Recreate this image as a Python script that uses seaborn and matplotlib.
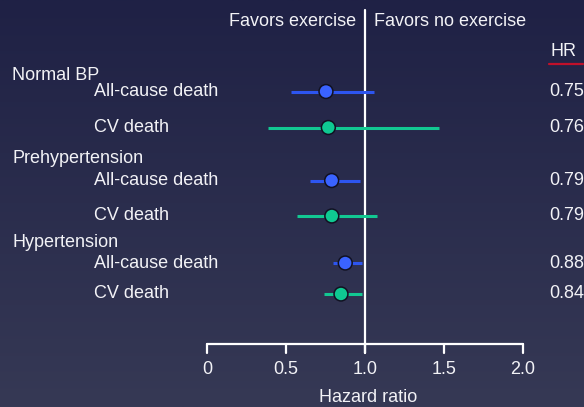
import numpy as np
import pandas as pd
import matplotlib
matplotlib.use("Agg")
import matplotlib.pyplot as plt
import seaborn as sns
from matplotlib.colors import LinearSegmentedColormap

# ---- data ----
groups = ["Normal BP", "Prehypertension", "Hypertension"]
outcomes = ["All-cause death", "CV death"]
hr = [0.75, 0.76, 0.79, 0.79, 0.88, 0.84]
hr_plot = [0.753, 0.768, 0.789, 0.79, 0.875, 0.848]
lower = [0.53, 0.384, 0.654, 0.567, 0.80, 0.738]
upper = [1.06, 1.466, 0.966, 1.074, 0.981, 0.981]
xticks = [0, 0.5, 1.0, 1.5, 2.0]
xticklabels = ["0", "0.5", "1.0", "1.5", "2.0"]

# ---- layout (pixel rows) ----
W, H = 584, 407
row_y = [91.5, 127.5, 180.5, 216, 263, 294]
group_y = [75.5, 158.5, 242.5]
x0_px, unit_px = 207, 158
FS = 13

sns.set_theme(style="white")
plt.rcParams["font.family"] = ["Liberation Sans", "DejaVu Sans"]

fig = plt.figure(figsize=(W / 100, H / 100), dpi=100)
ax = fig.add_axes([0, 0, 1, 1])
xmin = -x0_px / unit_px
xmax = (W - x0_px) / unit_px

# gradient background
cmap = LinearSegmentedColormap.from_list("bg", ["#1f2145", "#363955"])
grad = np.linspace(0, 1, 256).reshape(-1, 1)
ax.imshow(grad, cmap=cmap, extent=[xmin, xmax, H, 0], aspect="auto", zorder=0)

df = pd.DataFrame({
    "group": np.repeat(groups, 2),
    "outcome": outcomes * 3,
    "hr": hr_plot,
    "lower": lower,
    "upper": upper,
    "y": row_y,
})
palette = {"All-cause death": "#3a63ff", "CV death": "#0fc992"}
line_col = {"All-cause death": "#2d55f0", "CV death": "#12c892"}
txt_col = "#f2f2f6"

# reference line
ax.plot([1.0, 1.0], [10, 353], color="white", lw=1.6, zorder=2)

# CIs
for _, r in df.iterrows():
    ax.plot([r["lower"], r["upper"]], [r["y"], r["y"]], color=line_col[r["outcome"]],
            lw=2.2, solid_capstyle="butt", zorder=3)

sns.scatterplot(data=df, x="hr", y="y", hue="outcome", palette=palette, s=100,
                edgecolor="#111122", linewidth=1.1, legend=False, zorder=4, ax=ax)
ax.set_xlim(xmin, xmax)
ax.set_ylim(H, 0)
ax.axis("off")

# axis
axis_y = 343.5
ax.plot([0, 2], [axis_y, axis_y], color="white", lw=1.6, zorder=2)
for t, lab in zip(xticks, xticklabels):
    ax.plot([t, t], [axis_y, 353], color="white", lw=1.6, zorder=2)
    ax.text(t, 370, lab, color=txt_col, fontsize=FS, ha="center", va="center")
ax.text(1.0 + 3 / unit_px, 397, "Hazard ratio", color=txt_col, fontsize=FS, ha="center", va="center")

# headers
ax.text(1.0 - 9 / unit_px, 21, "Favors exercise", color=txt_col, fontsize=FS, ha="right", va="center")
ax.text(1.0 + 9 / unit_px, 21, "Favors no exercise", color=txt_col, fontsize=FS, ha="left", va="center")

def px(x):
    return (x - x0_px) / unit_px

ax.text(px(564), 52, "HR", color=txt_col, fontsize=FS, ha="center", va="center")
ax.plot([px(549), px(583)], [63.5, 63.5], color="#c0102a", lw=1.6)

for g, gy in zip(groups, group_y):
    ax.text(px(12), gy, g, color=txt_col, fontsize=FS, ha="left", va="center")
for _, r in df.iterrows():
    ax.text(px(94), r["y"], r["outcome"], color=txt_col, fontsize=FS, ha="left", va="center")
for v, y in zip(hr, row_y):
    ax.text(px(549), y, f"{v:.2f}", color=txt_col, fontsize=FS, ha="left", va="center")

fig.savefig("out.png", dpi=100)
